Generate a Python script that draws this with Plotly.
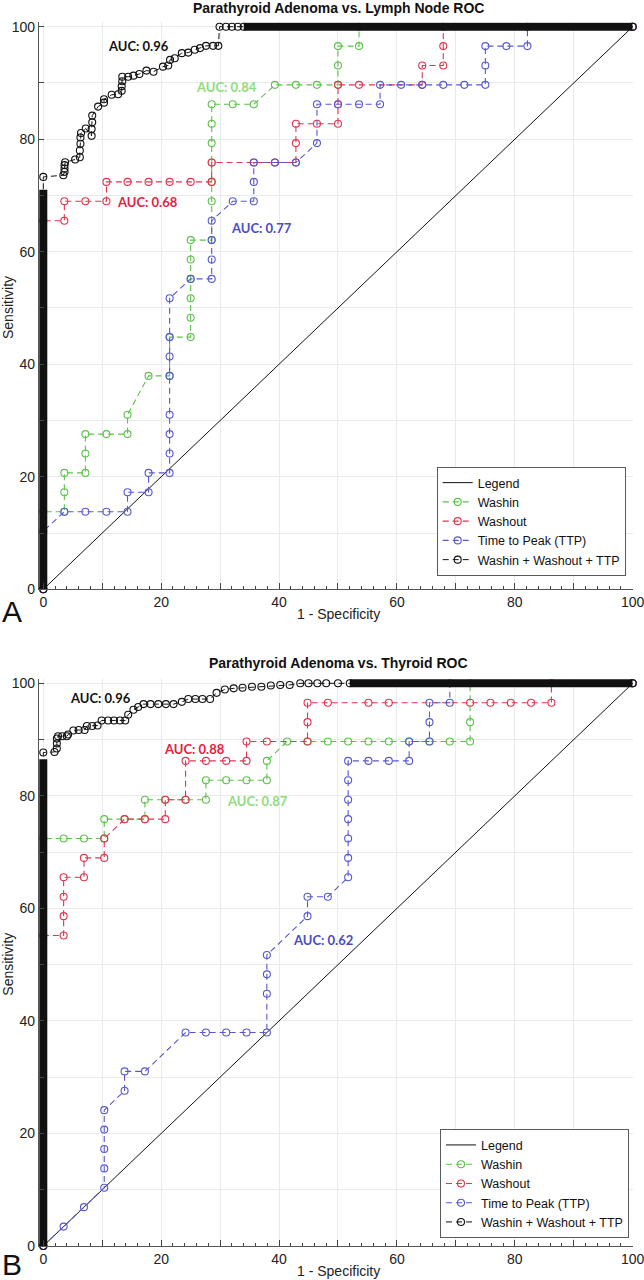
import plotly.graph_objects as go

# ---------------- Panel A: Parathyroid Adenoma vs. Lymph Node ----------------
washin_A_x = [0, 0, 3.57, 3.57, 3.57, 7.14, 7.14, 7.14, 10.71, 14.29, 14.29, 17.86, 21.43, 21.43, 25.0, 25.0, 25.0, 25.0, 25.0, 25.0,
              28.57, 28.57, 28.57, 28.57, 28.57, 28.57, 28.57, 32.14, 35.71, 39.29, 42.86, 46.43, 50.0, 50.0, 50.0, 53.57, 53.57, 100]
washin_A_y = [0, 13.79, 13.79, 17.24, 20.69, 20.69, 24.14, 27.59, 27.59, 27.59, 31.03, 37.93, 37.93, 44.83, 44.83, 48.28, 51.72, 55.17, 58.62, 62.07,
              62.07, 68.97, 72.41, 75.86, 79.31, 82.76, 86.21, 86.21, 86.21, 89.66, 89.66, 89.66, 89.66, 93.10, 96.55, 96.55, 100, 100]

washout_A_x = [0, 0, 3.57, 3.57, 7.14, 10.71, 10.71, 14.29, 17.86, 21.43, 25.0, 28.57, 28.57, 35.71, 39.29, 42.86, 42.86, 42.86, 46.43, 50.0,
               50.0, 50.0, 53.57, 64.29, 64.29, 67.86, 67.86, 67.86, 100]
washout_A_y = [0, 65.52, 65.52, 68.97, 68.97, 68.97, 72.41, 72.41, 72.41, 72.41, 72.41, 72.41, 75.86, 75.86, 75.86, 75.86, 79.31, 82.76, 82.76, 82.76,
               86.21, 89.66, 89.66, 89.66, 93.10, 93.10, 96.55, 100, 100]

ttp_A_x = [0, 0, 3.57, 7.14, 10.71, 14.29, 14.29, 17.86, 17.86, 21.43, 21.43, 21.43, 21.43, 21.43, 21.43, 21.43, 21.43, 25.0, 28.57, 28.57,
           28.57, 28.57, 32.14, 35.71, 35.71, 35.71, 39.29, 42.86, 46.43, 46.43, 50.0, 53.57, 57.14, 57.14, 60.71, 64.29, 67.86, 71.43, 75.0, 75.0,
           75.0, 78.57, 82.14, 82.14, 100]
ttp_A_y = [0, 10.34, 13.79, 13.79, 13.79, 13.79, 17.24, 17.24, 20.69, 20.69, 24.14, 27.59, 31.03, 37.93, 41.38, 44.83, 51.72, 55.17, 55.17, 58.62,
           62.07, 65.52, 68.97, 68.97, 72.41, 75.86, 75.86, 75.86, 79.31, 86.21, 86.21, 86.21, 86.21, 89.66, 89.66, 89.66, 89.66, 89.66, 89.66, 93.10,
           96.55, 96.55, 96.55, 100, 100]

combo_A_x = [0, 0, 3.4, 3.6, 3.6, 3.6, 3.7, 5.4, 6.2, 6.2, 6.3, 6.3, 6.4, 7.2, 8.2, 8.2, 8.3, 8.3, 9.3, 10.3, 10.3, 11.6, 12.7, 13.3, 13.3,
             13.4, 13.4, 14.4, 15.3, 16.3, 17.5, 18.7, 20.3, 21.2, 21.5, 22.3, 23.5, 24.6, 25.7, 26.6, 27.6, 28.8, 29.7, 29.9, 31.0, 32.0,
             33.0, 34.0, 100]
combo_A_y = [0, 73.3, 73.6, 74.2, 74.8, 75.4, 75.9, 76.4, 76.8, 78.0, 79.2, 80.3, 81.1, 81.9, 80.6, 81.8, 83.0, 84.2, 85.8, 86.5, 87.1, 87.9, 88.0,
             88.6, 89.4, 90.3, 91.1, 91.1, 91.3, 91.6, 92.2, 92.0, 92.9, 93.1, 94.1, 94.4, 95.3, 95.4, 95.9, 96.2, 96.6, 96.6, 96.6, 100, 100,
             100, 100, 100, 100]
# dense runs of stacked markers (drawn as a solid band)
combo_A_vrun_y = [0, 71]
combo_A_hrun_x = [34, 100]

# ---------------- Panel B: Parathyroid Adenoma vs. Thyroid ----------------
washin_B_x = [0, 0, 3.45, 6.90, 10.34, 10.34, 13.79, 17.24, 17.24, 20.69, 24.14, 27.59, 27.59, 31.03, 34.48, 37.93, 37.93, 41.38, 44.83, 48.28,
              51.72, 55.17, 58.62, 62.07, 65.52, 68.97, 72.41, 72.41, 72.41, 100]
washin_B_y = [0, 72.41, 72.41, 72.41, 72.41, 75.86, 75.86, 75.86, 79.31, 79.31, 79.31, 79.31, 82.76, 82.76, 82.76, 82.76, 86.21, 89.66, 89.66, 89.66,
              89.66, 89.66, 89.66, 89.66, 89.66, 89.66, 89.66, 93.10, 100, 100]

washout_B_x = [0, 0, 3.45, 3.45, 3.45, 3.45, 6.90, 6.90, 10.34, 10.34, 13.79, 17.24, 20.69, 20.69, 24.14, 24.14, 27.59, 31.03, 34.48, 34.48,
               37.93, 44.83, 44.83, 44.83, 48.28, 55.17, 58.62, 72.41, 75.86, 79.31, 82.76, 86.21, 86.21, 100]
washout_B_y = [0, 55.17, 55.17, 58.62, 62.07, 65.52, 65.52, 68.97, 68.97, 72.41, 75.86, 75.86, 75.86, 79.31, 79.31, 86.21, 86.21, 86.21, 86.21, 89.66,
               89.66, 89.66, 93.10, 96.55, 96.55, 96.55, 96.55, 96.55, 96.55, 96.55, 96.55, 96.55, 100, 100]

ttp_B_x = [0, 3.45, 6.90, 10.34, 10.34, 10.34, 10.34, 10.34, 13.79, 13.79, 17.24, 24.14, 27.59, 31.03, 34.48, 37.93, 37.93, 37.93, 37.93, 44.83,
           44.83, 48.28, 51.72, 51.72, 51.72, 51.72, 51.72, 51.72, 51.72, 55.17, 58.62, 62.07, 62.07, 65.52, 65.52, 65.52, 68.97, 68.97, 100]
ttp_B_y = [0, 3.45, 6.90, 10.34, 13.79, 17.24, 20.69, 24.14, 27.59, 31.03, 31.03, 37.93, 37.93, 37.93, 37.93, 37.93, 44.83, 48.28, 51.72, 58.62,
           62.07, 62.07, 65.52, 68.97, 72.41, 75.86, 79.31, 82.76, 86.21, 86.21, 86.21, 86.21, 89.66, 89.66, 93.10, 96.55, 96.55, 100, 100]

combo_B_x = [0, 0, 1.9, 2.3, 2.3, 2.3, 2.5, 3.2, 4.0, 4.2, 5.1, 6.0, 7.0, 7.4, 8.3, 9.2, 9.9, 11.0, 12.0, 13.0, 13.9, 14.4, 15.3, 16.1, 17.0,
             18.2, 19.5, 20.8, 22.1, 23.5, 24.6, 25.8, 27.0, 28.3, 29.4, 30.8, 32.3, 33.8, 35.4, 37.0, 38.6, 40.2, 41.8, 43.6, 45.0, 46.5,
             48.0, 50.0, 52.0, 100]
combo_B_y = [0, 87.7, 87.8, 88.4, 89.3, 90.2, 90.6, 90.6, 90.6, 90.9, 91.6, 91.7, 91.7, 92.4, 92.4, 92.5, 93.4, 93.4, 93.4, 93.4, 93.4, 94.4, 95.3,
             95.8, 96.3, 96.3, 96.3, 96.3, 96.3, 96.7, 97.2, 97.2, 97.2, 97.2, 98.3, 98.9, 99.1, 99.2, 99.4, 99.4, 99.6, 99.7, 99.7, 100, 100,
             100, 100, 100, 100, 100]
combo_B_vrun_y = [0, 86.5]
combo_B_hrun_x = [52, 100]

diag = [0, 100]
series_names = ["Legend", "Washin", "Washout", "Time to Peak (TTP)", "Washin + Washout + TTP"]

auc_A = [("AUC: 0.96", 16.1, 96.5, "#111111"), ("AUC: 0.84", 31.1, 89.2, "#8fdc7c"),
         ("AUC: 0.68", 17.6, 68.9, "#e5203f"), ("AUC: 0.77", 37.1, 64.2, "#4b4bc8")]
auc_B = [("AUC: 0.96", 9.7, 97.3, "#111111"), ("AUC: 0.88", 25.6, 88.3, "#e5203f"),
         ("AUC: 0.87", 36.4, 79.0, "#8fdc7c"), ("AUC: 0.62", 47.4, 54.4, "#4b4bc8")]

GREEN = "#5cc24a"
RED = "#e0344f"
BLUE = "#5858cf"
BLACK = "#111111"
DASH = "6px,4px"
MSIZE = 7

fig = go.Figure()


def add_panel(xa, ya, legend, wx, wy, ox, oy, tx, ty, cx, cy, vrun_y, hrun_x):
    common = dict(xaxis=xa, yaxis=ya, legend=legend, cliponaxis=False)
    fig.add_trace(go.Scatter(x=diag, y=diag, mode="lines", name=series_names[0],
                             line=dict(color=BLACK, width=1), **common))
    for xs, ys, name, col in [(wx, wy, series_names[1], GREEN), (ox, oy, series_names[2], RED),
                              (tx, ty, series_names[3], BLUE)]:
        fig.add_trace(go.Scatter(x=xs, y=ys, mode="lines+markers", name=name,
                                 line=dict(color=col, width=1.1, dash=DASH),
                                 marker=dict(symbol="circle-open", size=MSIZE, color=col, line=dict(width=1.1)),
                                 **common))
    # dense stacked-marker runs of the combined curve
    fig.add_trace(go.Scatter(x=[0, 0], y=vrun_y, mode="lines", showlegend=False,
                             line=dict(color=BLACK, width=8), **common))
    fig.add_trace(go.Scatter(x=hrun_x, y=[100, 100], mode="lines", showlegend=False,
                             line=dict(color=BLACK, width=8), **common))
    fig.add_trace(go.Scatter(x=cx, y=cy, mode="lines+markers", name=series_names[4],
                             line=dict(color=BLACK, width=1, dash=DASH),
                             marker=dict(symbol="circle-open", size=MSIZE, color=BLACK, line=dict(width=1.1)),
                             **common))


add_panel("x", "y", "legend", washin_A_x, washin_A_y, washout_A_x, washout_A_y, ttp_A_x, ttp_A_y,
          combo_A_x, combo_A_y, combo_A_vrun_y, combo_A_hrun_x)
add_panel("x2", "y2", "legend2", washin_B_x, washin_B_y, washout_B_x, washout_B_y, ttp_B_x, ttp_B_y,
          combo_B_x, combo_B_y, combo_B_vrun_y, combo_B_hrun_x)

W, H = 644, 1280
PXX = 5.894   # px per unit (x)
PXY = 5.626   # px per unit (y)
XLO, YHI = -0.75, 100.8   # small overhang so the dense bands are not clipped
x_dom = [(43.3 + XLO * PXX) / W, 632.7 / W]
yA = [1 - 589.3 / H, 1 - (26.7 - (YHI - 100) * PXY) / H]
yB = [1 - 1246 / H, 1 - (683.3 - (YHI - 100) * PXY) / H]

tick_vals = [0, 10, 20, 30, 40, 50, 60, 70, 80, 90, 100]
tick_text = ["0", "", "20", "", "40", "", "60", "", "80", "", "100"]
tickfont = dict(family="Liberation Sans, Arial, sans-serif", size=14, color="#222222")

xax = dict(range=[XLO, 100], domain=x_dom, tickvals=tick_vals, ticktext=tick_text, ticks="inside", ticklen=6,
           tickcolor="#444444", showgrid=True, gridcolor="#e8eaec", gridwidth=1, showline=True, linecolor="#555555",
           zeroline=False, tickfont=tickfont, fixedrange=True, automargin=False, ticklabeloverflow="allow",
           minor=dict(tick0=0, dtick=2, ticks="inside", ticklen=3, tickcolor="#444444", showgrid=False))
yax = dict(range=[0, YHI], tickvals=tick_vals, ticktext=tick_text, ticks="inside", ticklen=5,
           tickcolor="#444444", showgrid=True, gridcolor="#e8eaec", gridwidth=1, showline=True, linecolor="#555555",
           zeroline=False, tickfont=tickfont, fixedrange=True, automargin=False, ticklabeloverflow="allow")

legend_style = dict(xanchor="right", yanchor="bottom", bgcolor="white", bordercolor="#5a5a5a", borderwidth=1,
                    font=dict(family="Liberation Sans, Arial, sans-serif", size=12.5, color="#111111"),
                    itemwidth=30, traceorder="normal")

fig.update_layout(
    width=W, height=H, margin=dict(l=0, r=0, t=0, b=0, pad=0), autosize=False,
    paper_bgcolor="white", plot_bgcolor="white",
    xaxis=dict(xax, anchor="y"),
    yaxis=dict(yax, domain=yA, anchor="x"),
    xaxis2=dict(xax, anchor="y2"),
    yaxis2=dict(yax, domain=yB, anchor="x2"),
    legend=dict(legend_style, x=625.7 / W, y=1 - 576 / H),
    legend2=dict(legend_style, x=629 / W, y=1 - 1238.3 / H),
)

ann = []
for (txt, ax, ay, col) in auc_A:
    ann.append(dict(text=txt, x=ax, y=ay, xref="x", yref="y", showarrow=False, xanchor="center", yanchor="middle",
                    font=dict(family="Lato, Open Sans, sans-serif", size=13, color=col, weight="bold")))
for (txt, ax, ay, col) in auc_B:
    ann.append(dict(text=txt, x=ax, y=ay, xref="x2", yref="y2", showarrow=False, xanchor="center", yanchor="middle",
                    font=dict(family="Lato, Open Sans, sans-serif", size=13, color=col, weight="bold")))

title_font = dict(family="Liberation Sans, Arial, sans-serif", size=14, color="#111111")
label_font = dict(family="Liberation Sans, Arial, sans-serif", size=14, color="#222222")
xc = (43.3 + 632.7) / 2 / W
paper = dict(xref="paper", yref="paper", showarrow=False, xanchor="center", yanchor="middle")
ann += [
    dict(paper, text="<b>Parathyroid Adenoma vs. Lymph Node ROC</b>", x=xc, y=1 - 7.5 / H, font=title_font),
    dict(paper, text="<b>Parathyroid Adenoma vs. Thyroid ROC</b>", x=xc, y=1 - 663.3 / H, font=title_font),
    dict(paper, text="Sensitivity", x=8 / W, y=1 - 308 / H, textangle=-90, font=label_font),
    dict(paper, text="Sensitivity", x=8 / W, y=1 - 964.7 / H, textangle=-90, font=label_font),
    dict(paper, text="1 - Specificity", x=xc, y=1 - 613.5 / H, font=label_font),
    dict(paper, text="1 - Specificity", x=xc, y=1 - 1271 / H, font=label_font),
    dict(paper, text="A", x=12.5 / W, y=1 - 611 / H,
         font=dict(family="Liberation Sans, Arial, sans-serif", size=30, color="#111111")),
    dict(paper, text="B", x=12.5 / W, y=1 - 1264 / H,
         font=dict(family="Liberation Sans, Arial, sans-serif", size=30, color="#111111")),
]
fig.update_layout(annotations=ann)

fig.write_html("out.html", config={"displayModeBar": False},
               post_script="document.body.style.margin='0';document.body.style.padding='0';"
                           "document.documentElement.style.overflow='hidden';")
